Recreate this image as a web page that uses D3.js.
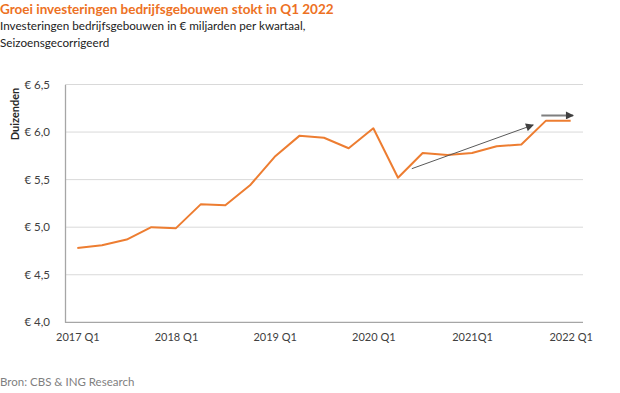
<!DOCTYPE html>
<html>
<head>
<meta charset="utf-8">
<script src="https://cdn.jsdelivr.net/npm/d3@7"></script>
<style>
	body { margin: 0; background: #fff; }
	svg { display: block; font-family: Lato, "Open Sans", sans-serif; }
</style>
</head>
<body>
<svg id="chart" width="620" height="393"></svg>
<script>
var quarters = ['2017 Q1', '2017 Q2', '2017 Q3', '2017 Q4',
	'2018 Q1', '2018 Q2', '2018 Q3', '2018 Q4',
	'2019 Q1', '2019 Q2', '2019 Q3', '2019 Q4',
	'2020 Q1', '2020 Q2', '2020 Q3', '2020 Q4',
	'2021Q1', '2021 Q2', '2021 Q3', '2021 Q4',
	'2022 Q1'];
var investments = [4.78, 4.81, 4.87, 5.00, 4.99, 5.24, 5.23, 5.44,
	5.74, 5.96, 5.94, 5.83, 6.04, 5.52, 5.78, 5.76, 5.78, 5.85, 5.87,
	6.12, 6.12];
var yTicks = [4.0, 4.5, 5.0, 5.5, 6.0, 6.5];
var xLabels = ['2017 Q1', '2018 Q1', '2019 Q1', '2020 Q1', '2021Q1', '2022 Q1'];
// annotation arrows: [start index, start value, end index, end value, width]
var arrows = [
	[13.56, 5.615, 18.48, 6.075, 1],
	[18.81, 6.175, 20.1, 6.175, 2]
];

var svg = d3.select('#chart'),
	plotLeft = 65,
	plotRight = 583,
	plotTop = 84.5,
	plotBottom = 322.3;

var x = d3.scalePoint()
	.domain(quarters)
	.range([plotLeft, plotRight])
	.padding(0.5);

var step = x.step();
var xi = function (i) { return plotLeft + step * (i + 0.5); };

var y = d3.scaleLinear()
	.domain([4.0, 6.5])
	.range([plotBottom, plotTop]);

var fmt = function (d) { return '€ ' + d3.format('.1f')(d).replace('.', ','); };

// titles
svg.append('text')
	.attr('x', 0).attr('y', 14)
	.style('font-size', '13.5px')
	.style('font-weight', 'bold')
	.style('fill', '#ED7123')
	.text('Groei investeringen bedrijfsgebouwen stokt in Q1 2022');

svg.append('text')
	.attr('x', 0).attr('y', 30)
	.style('font-size', '11.7px')
	.style('fill', '#222')
	.text('Investeringen bedrijfsgebouwen in € miljarden per kwartaal,');

svg.append('text')
	.attr('x', 0).attr('y', 47)
	.style('font-size', '11.7px')
	.style('fill', '#222')
	.text('Seizoensgecorrigeerd');

// gridlines
svg.append('g')
	.selectAll('line')
	.data(yTicks.slice(1))
	.enter().append('line')
		.attr('x1', plotLeft).attr('x2', plotRight)
		.attr('y1', function (d) { return y(d); })
		.attr('y2', function (d) { return y(d); })
		.style('stroke', '#d9d9d9')
		.style('stroke-width', 1);

// y axis
var yAxis = svg.append('g')
	.attr('transform', 'translate(' + plotLeft + ',0)')
	.call(d3.axisLeft(y).tickValues(yTicks).tickFormat(fmt).tickSize(0).tickPadding(15));

yAxis.select('.domain').style('stroke', '#a6a6a6').style('stroke-width', 1.3);
yAxis.selectAll('text')
	.style('font-family', 'Lato, "Open Sans", sans-serif')
	.style('font-size', '11.5px')
	.style('fill', '#404040');

// x axis
var xAxis = svg.append('g')
	.attr('transform', 'translate(0,' + plotBottom + ')')
	.call(d3.axisBottom(x).tickValues(xLabels).tickSize(0).tickPadding(11));

xAxis.select('.domain')
	.attr('d', 'M' + plotLeft + ',0H' + plotRight)
	.style('stroke', '#a6a6a6').style('stroke-width', 1.3);
xAxis.selectAll('text')
	.style('font-family', 'Lato, "Open Sans", sans-serif')
	.style('font-size', '11px')
	.style('fill', '#404040');

svg.append('text')
	.attr('transform', 'translate(19,114) rotate(-90)')
	.attr('text-anchor', 'middle')
	.style('font-size', '11px')
	.style('font-weight', 'bold')
	.style('fill', '#262626')
	.text('Duizenden');

// the line
var line = d3.line()
	.x(function (d, i) { return x(quarters[i]); })
	.y(function (d) { return y(d); });

svg.append('path')
	.datum(investments)
	.attr('d', line)
	.style('fill', 'none')
	.style('stroke', '#ED7D31')
	.style('stroke-width', 2)
	.style('stroke-linejoin', 'round');

// arrows
var defs = svg.append('defs');
defs.append('marker')
	.attr('id', 'head')
	.attr('viewBox', '0 0 10 10')
	.attr('refX', 9).attr('refY', 5)
	.attr('markerUnits', 'userSpaceOnUse')
	.attr('markerWidth', 9).attr('markerHeight', 8)
	.attr('orient', 'auto')
	.append('path')
		.attr('d', 'M0,0L10,5L0,10Z')
		.style('fill', '#404040');

svg.append('g')
	.selectAll('line')
	.data(arrows)
	.enter().append('line')
		.attr('x1', function (d) { return xi(d[0]); })
		.attr('y1', function (d) { return y(d[1]); })
		.attr('x2', function (d) { return xi(d[2]); })
		.attr('y2', function (d) { return y(d[3]); })
		.attr('marker-end', 'url(#head)')
		.style('stroke', function (d) { return d[4] > 1 ? '#7f7f7f' : '#595959'; })
		.style('stroke-width', function (d) { return d[4]; });

svg.append('text')
	.attr('x', 0).attr('y', 386)
	.style('font-size', '11.5px')
	.style('fill', '#7f7f7f')
	.text('Bron: CBS & ING Research');
</script>
</body>
</html>
